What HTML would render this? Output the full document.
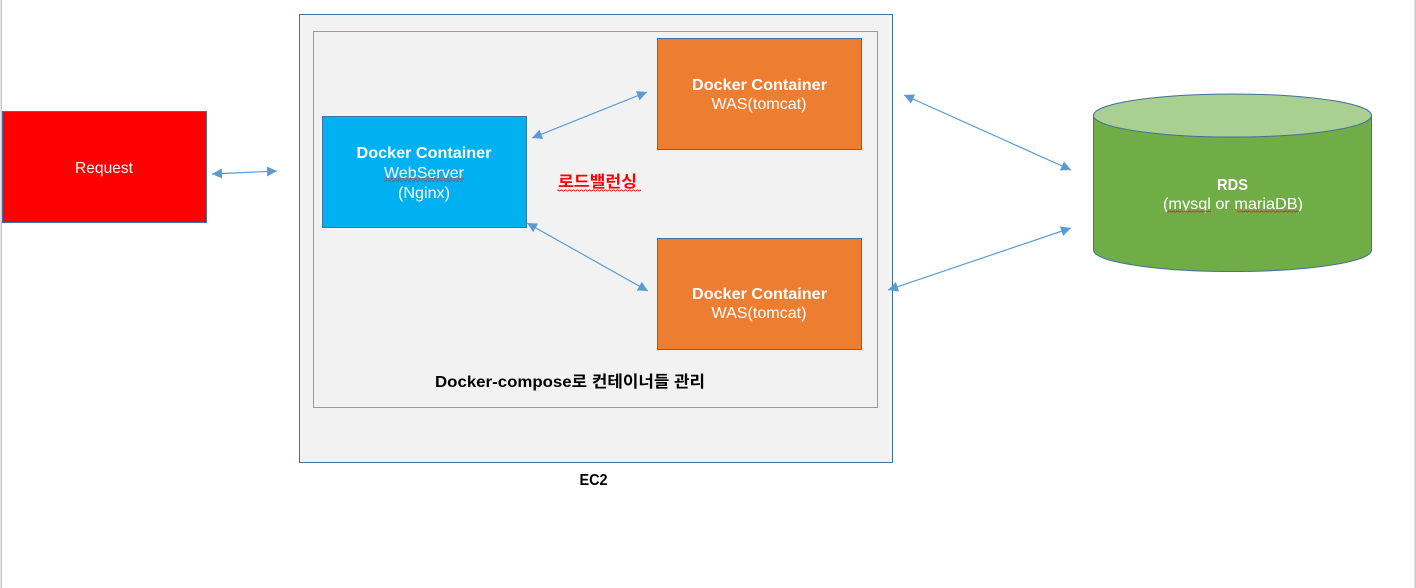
<!DOCTYPE html>
<html lang="ko">
<head>
<meta charset="utf-8">
<title>Docker EC2 Architecture</title>
<style>
html,body{margin:0;padding:0;background:#fff;width:1416px;height:588px;overflow:hidden}
svg{display:block}
text{font-family:"Liberation Sans","Noto Sans CJK KR",sans-serif;font-size:16px;text-anchor:middle;fill:#fff}
.b{font-weight:bold}
.k{fill:#000;font-weight:bold}
.box{stroke:#41719c;stroke-width:1;shape-rendering:crispEdges}
.arr{stroke:#5b9bd5;stroke-width:1.2;fill:none;marker-start:url(#h);marker-end:url(#h)}
</style>
</head>
<body>
<svg width="1416" height="588" viewBox="0 0 1416 588" xmlns="http://www.w3.org/2000/svg">
<defs>
<marker id="h" viewBox="0 0 10 10" refX="10" refY="5" markerWidth="10" markerHeight="10" markerUnits="userSpaceOnUse" orient="auto-start-reverse">
<path d="M0 0L10 5L0 10Z" fill="#5b9bd5"/>
</marker>
<pattern id="w" width="4" height="3" patternUnits="userSpaceOnUse" y="0">
<path d="M0 2L1 1L2 1L3 2L4 2" fill="none" stroke="#e8222e" stroke-width="1"/>
</pattern>
</defs>

<rect width="1416" height="588" fill="#fff"/>
<rect x="0.5" y="0" width="1.5" height="588" fill="#c9c9c9"/>
<rect x="1414.5" y="0" width="1.5" height="588" fill="#c9c9c9"/>

<!-- EC2 -->
<rect class="box" x="299.5" y="14.5" width="593" height="448" fill="#f2f2f2"/>
<rect x="313.5" y="31.5" width="564" height="376" fill="none" stroke="#a01828" stroke-width="1" stroke-dasharray="1 1" shape-rendering="crispEdges"/>

<!-- Request -->
<rect class="box" x="2.5" y="111.5" width="204" height="111" fill="#ff0000"/>
<text x="104" y="173" textLength="58" lengthAdjust="spacingAndGlyphs">Request</text>

<!-- Web server -->
<rect class="box" x="322.5" y="116.5" width="204" height="111" fill="#00b0f0"/>
<text class="b" x="424" y="158" textLength="135" lengthAdjust="spacingAndGlyphs">Docker Container</text>
<text x="424" y="178" textLength="80" lengthAdjust="spacingAndGlyphs">WebServer</text>
<text x="424" y="198" textLength="52" lengthAdjust="spacingAndGlyphs">(Nginx)</text>
<rect x="384" y="178.5" width="80" height="3" fill="url(#w)"/>

<!-- WAS 1 -->
<rect class="box" x="657.5" y="38.5" width="204" height="111" fill="#ed7d31"/>
<text class="b" x="759.5" y="90" textLength="135" lengthAdjust="spacingAndGlyphs">Docker Container</text>
<text x="759" y="109" textLength="95" lengthAdjust="spacingAndGlyphs">WAS(tomcat)</text>

<!-- WAS 2 -->
<rect class="box" x="657.5" y="238.5" width="204" height="111" fill="#ed7d31"/>
<text class="b" x="759.5" y="299" textLength="135" lengthAdjust="spacingAndGlyphs">Docker Container</text>
<text x="759" y="318" textLength="95" lengthAdjust="spacingAndGlyphs">WAS(tomcat)</text>

<!-- RDS -->
<path d="M1093.5 115.5V250c0 11.8 62 21.5 139 21.5s139-9.7 139-21.5V115.5Z" fill="#70ad47" stroke="#41719c" stroke-width="1"/>
<ellipse cx="1232.5" cy="115.5" rx="139" ry="21.5" fill="#a9cf91" stroke="#41719c" stroke-width="1"/>
<text class="b" x="1232.5" y="190" textLength="31" lengthAdjust="spacingAndGlyphs">RDS</text>
<text x="1233" y="209" textLength="140" lengthAdjust="spacingAndGlyphs">(mysql or mariaDB)</text>
<rect x="1167" y="209.5" width="44" height="3" fill="url(#w)"/>
<rect x="1237" y="209.5" width="63" height="3" fill="url(#w)"/>

<!-- Connectors -->
<line class="arr" x1="212" y1="174" x2="277" y2="171"/>
<line class="arr" x1="532" y1="138" x2="647" y2="92"/>
<line class="arr" x1="527" y1="223" x2="648" y2="291"/>
<line class="arr" x1="904" y1="95" x2="1071" y2="170"/>
<line class="arr" x1="888" y1="290" x2="1071" y2="228"/>

<!-- Labels -->
<text x="597.5" y="187" textLength="79" lengthAdjust="spacingAndGlyphs" style="fill:#ff0000;font-weight:bold">로드밸런싱</text>
<rect x="557" y="189.5" width="84" height="3" fill="url(#w)"/>
<text class="k" x="570" y="387" textLength="270" lengthAdjust="spacingAndGlyphs">Docker-compose로 컨테이너들 관리</text>
<text class="k" x="593.5" y="485" textLength="28" lengthAdjust="spacingAndGlyphs">EC2</text>
</svg>
</body>
</html>
